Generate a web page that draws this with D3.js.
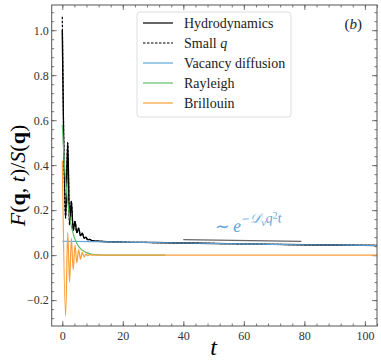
<!DOCTYPE html>
<html>
<head>
<meta charset="utf-8">
<script src="https://cdn.jsdelivr.net/npm/d3@7"></script>
<style>
  body { margin: 0; background: #fff; }
</style>
</head>
<body>
<div id="chart"></div>
<script>
// values
const seriesNames = ['Hydrodynamics', 'Small q', 'Vacancy diffusion', 'Rayleigh', 'Brillouin'];

const tHydro = [0, 1.1, 1.8, 2.4, 3.0, 3.6, 4.2, 4.8, 5.4, 6.0, 6.6, 7.2, 7.8, 8.4, 9.0, 10, 12, 20, 30, 40, 50, 60, 70, 80, 90, 104];
const vHydro = [1.0, 0.165, 0.50, 0.135, 0.24, 0.11, 0.15, 0.10, 0.12, 0.087, 0.098, 0.075, 0.08, 0.068, 0.07, 0.064, 0.062, 0.058, 0.056, 0.054, 0.052, 0.050, 0.048, 0.046, 0.045, 0.043];
const vSmallQ = [1.06, 0.165, 0.50, 0.135, 0.24, 0.11, 0.15, 0.10, 0.12, 0.087, 0.098, 0.075, 0.08, 0.068, 0.07, 0.064, 0.062, 0.058, 0.056, 0.054, 0.052, 0.050, 0.048, 0.046, 0.045, 0.043];

const tVacancy = [0, 10, 20, 30, 40, 50, 60, 70, 80, 90, 104];
const vVacancy = [0.062, 0.060, 0.058, 0.056, 0.054, 0.052, 0.050, 0.048, 0.046, 0.045, 0.043];

const tRayleigh = [0, 0.5, 1.1, 1.8, 2.4, 3.0, 3.6, 4.2, 4.8, 5.4, 6.0, 7.0, 8.0, 9.0, 10, 12, 15, 20, 34];
const vRayleigh = [0.58, 0.45, 0.335, 0.236, 0.175, 0.129, 0.096, 0.071, 0.053, 0.039, 0.029, 0.018, 0.011, 0.007, 0.004, 0.0015, 0.0004, 0, 0];

const tBrillouin = [0, 1.1, 1.8, 2.4, 3.0, 3.6, 4.2, 4.8, 5.4, 6.0, 6.6, 7.2, 7.8, 8.4, 9.0, 10, 20, 104];
const vBrillouin = [0.42, -0.27, 0.10, -0.12, 0.075, -0.065, 0.045, -0.035, 0.025, -0.018, 0.012, -0.008, 0.005, -0.003, 0.002, 0, 0, 0];

// guide line next to the annotation
const tGuide = [40, 79];
const vGuide = [0.069, 0.0615];

const xTicks = [0, 20, 40, 60, 80, 100];
const yTicks = [-0.2, 0.0, 0.2, 0.4, 0.6, 0.8, 1.0];

const width = 381, height = 364;
const margin = { top: 5, right: 4, bottom: 38, left: 51.7 };
const serif = '"Liberation Serif", "DejaVu Serif", serif';

const svg = d3.select('#chart').append('svg')
  .attr('width', width)
  .attr('height', height)
  .attr('font-family', serif);

const x = d3.scaleLinear()
  .domain([-3.5, 104])
  .range([margin.left, width - margin.right]);

const y = d3.scaleLinear()
  .domain([-0.315, 1.112])
  .range([height - margin.bottom, margin.top]);

const xMinor = d3.range(0, 105, 4);
const yMinor = d3.range(-0.28, 1.11, 0.04);

const axisColor = '#555';

function styleAxis(g) {
  g.attr('font-family', serif);
  g.select('.domain').remove();
  g.selectAll('line').attr('stroke', axisColor).attr('stroke-width', 0.8);
  g.selectAll('text').attr('fill', '#333').style('font-size', '12px');
}

// bottom
svg.append('g')
  .attr('transform', `translate(0,${y.range()[0]})`)
  .call(d3.axisBottom(x).tickValues(xTicks).tickSize(-5).tickPadding(5).tickFormat(d3.format('d')))
  .call(styleAxis);
svg.append('g')
  .attr('transform', `translate(0,${y.range()[0]})`)
  .call(d3.axisBottom(x).tickValues(xMinor).tickSize(-2.5).tickFormat(''))
  .call(styleAxis);
// top
svg.append('g')
  .attr('transform', `translate(0,${y.range()[1]})`)
  .call(d3.axisTop(x).tickValues(xTicks).tickSize(-5).tickFormat(''))
  .call(styleAxis);
svg.append('g')
  .attr('transform', `translate(0,${y.range()[1]})`)
  .call(d3.axisTop(x).tickValues(xMinor).tickSize(-2.5).tickFormat(''))
  .call(styleAxis);
// left
svg.append('g')
  .attr('transform', `translate(${x.range()[0]},0)`)
  .call(d3.axisLeft(y).tickValues(yTicks).tickSize(-5).tickPadding(3).tickFormat(d3.format('.1f')))
  .call(styleAxis);
svg.append('g')
  .attr('transform', `translate(${x.range()[0]},0)`)
  .call(d3.axisLeft(y).tickValues(yMinor).tickSize(-2.5).tickFormat(''))
  .call(styleAxis);
// right
svg.append('g')
  .attr('transform', `translate(${x.range()[1]},0)`)
  .call(d3.axisRight(y).tickValues(yTicks).tickSize(-5).tickFormat(''))
  .call(styleAxis);
svg.append('g')
  .attr('transform', `translate(${x.range()[1]},0)`)
  .call(d3.axisRight(y).tickValues(yMinor).tickSize(-2.5).tickFormat(''))
  .call(styleAxis);

svg.append('defs').append('clipPath').attr('id', 'clip')
  .append('rect')
  .attr('x', x.range()[0]).attr('y', y.range()[1])
  .attr('width', x.range()[1] - x.range()[0])
  .attr('height', y.range()[0] - y.range()[1]);

const line = d3.line()
  .x(d => x(d[0]))
  .y(d => y(d[1]))
  .curve(d3.curveMonotoneX);

const zip = (ts, vs) => ts.map((t, i) => [t, vs[i]]);

const series = [
  { name: seriesNames[0], data: zip(tHydro, vHydro), color: '#000', dash: null, w: 1.4 },
  { name: seriesNames[1], data: zip(tHydro, vSmallQ), color: '#000', dash: '2.5,1.5', w: 1.2 },
  { name: seriesNames[2], data: zip(tVacancy, vVacancy), color: '#5DA5DA', dash: null, w: 1.1 },
  { name: seriesNames[3], data: zip(tRayleigh, vRayleigh), color: '#60BD68', dash: null, w: 1.2 },
  { name: seriesNames[4], data: zip(tBrillouin, vBrillouin), color: '#F99E3A', dash: null, w: 1.2 }
];

const plot = svg.append('g').attr('clip-path', 'url(#clip)');

plot.selectAll('path.series')
  .data(series)
  .join('path')
  .attr('class', 'series')
  .attr('fill', 'none')
  .attr('stroke', d => d.color)
  .attr('stroke-width', d => d.w)
  .attr('stroke-dasharray', d => d.dash)
  .attr('d', d => line(d.data));

plot.append('path')
  .attr('fill', 'none')
  .attr('stroke', '#666')
  .attr('stroke-width', 1.3)
  .attr('d', d3.line().x(d => x(d[0])).y(d => y(d[1]))(zip(tGuide, vGuide)));

// frame
svg.append('rect')
  .attr('x', x.range()[0]).attr('y', y.range()[1])
  .attr('width', x.range()[1] - x.range()[0])
  .attr('height', y.range()[0] - y.range()[1])
  .attr('fill', 'none')
  .attr('stroke', axisColor)
  .attr('stroke-width', 1);

// annotation
const ann = svg.append('text')
  .attr('transform', `translate(${x(50.5)},${y(0.1)}) rotate(-2)`)
  .attr('fill', '#5DA5DA')
  .style('font-size', '18px');
ann.append('tspan').text('\u223C');
ann.append('tspan').attr('dx', 3).style('font-style', 'italic').text('e');
ann.append('tspan').attr('dy', -8).style('font-size', '14px').style('font-style', 'italic').text('\u2212\uD835\uDC9F');
ann.append('tspan').attr('dy', 3).style('font-size', '10px').style('font-style', 'italic').text('v');
ann.append('tspan').attr('dy', -3).style('font-size', '14px').style('font-style', 'italic').text('q');
ann.append('tspan').attr('dy', -4).style('font-size', '10px').text('2');
ann.append('tspan').attr('dy', 4).style('font-size', '14px').style('font-style', 'italic').text('t');

// legend
const legend = svg.append('g');
legend.append('rect')
  .attr('x', 137).attr('y', 12)
  .attr('width', 154).attr('height', 105)
  .attr('rx', 3)
  .attr('fill', '#fff').attr('fill-opacity', 0.8)
  .attr('stroke', '#d6d6d6').attr('stroke-width', 0.8);

const items = legend.selectAll('g.item')
  .data(series)
  .join('g')
  .attr('class', 'item')
  .attr('transform', (d, i) => `translate(143,${23 + i * 20})`);

items.append('line')
  .attr('x1', 0).attr('x2', 30)
  .attr('stroke', d => d.color)
  .attr('stroke-width', 1.2)
  .attr('stroke-dasharray', d => d.dash);

items.append('text')
  .attr('x', 41).attr('dy', '0.35em')
  .attr('fill', '#222')
  .style('font-size', '14px')
  .each(function(d) {
    const t = d3.select(this);
    if (d.name === 'Small q') {
      t.append('tspan').text('Small ');
      t.append('tspan').style('font-style', 'italic').text('q');
    } else {
      t.text(d.name);
    }
  });

// panel tag
const tag = svg.append('text')
  .attr('x', 362).attr('y', 29)
  .attr('text-anchor', 'end')
  .attr('fill', '#222')
  .style('font-size', '15px');
tag.append('tspan').text('(');
tag.append('tspan').style('font-style', 'italic').text('b');
tag.append('tspan').text(')');

// axis labels
svg.append('text')
  .attr('x', x(50))
  .attr('y', 355)
  .attr('text-anchor', 'middle')
  .style('font-size', '24px')
  .style('font-style', 'italic')
  .text('t');

const yl = svg.append('text')
  .attr('transform', `translate(25,${(y.range()[0] + y.range()[1]) / 2 + 10}) rotate(-90)`)
  .attr('text-anchor', 'middle')
  .style('font-size', '22px');
yl.append('tspan').style('font-style', 'italic').text('F');
yl.append('tspan').text('(');
yl.append('tspan').style('font-weight', 'bold').text('q');
yl.append('tspan').text(', ');
yl.append('tspan').style('font-style', 'italic').text('t');
yl.append('tspan').text(')/');
yl.append('tspan').style('font-style', 'italic').text('S');
yl.append('tspan').text('(');
yl.append('tspan').style('font-weight', 'bold').text('q');
yl.append('tspan').text(')');
</script>
</body>
</html>
